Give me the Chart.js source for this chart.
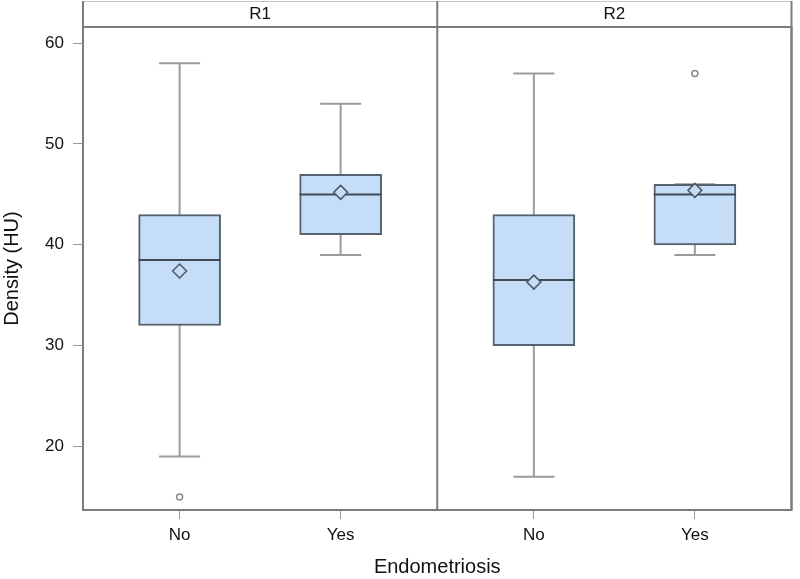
<!DOCTYPE html>
<html>
<head>
<meta charset="utf-8">
<title>Density by Endometriosis</title>
<script src="https://cdn.jsdelivr.net/npm/chart.js@4.4.1/dist/chart.umd.min.js"></script>
<style>
    html, body { margin: 0; padding: 0; background: #fff; }
    #wrap { width: 800px; height: 579px; }
</style>
</head>
<body>
<div id="wrap"><canvas id="boxChart"></canvas></div>
<script>
// panels and groups, boxes are listed R1-No, R1-Yes, R2-No, R2-Yes
const panels = ['R1', 'R2'];
const groups = ['No', 'Yes'];
const whiskerLow = [19, 39, 17, 39];
const q1 = [32, 41, 30, 40];
const median = [38.5, 45, 36.5, 45];
const q3 = [43, 47, 43, 46];
const whiskerHigh = [58, 54, 57, 46];
const means = [37.4, 45.2, 36.3, 45.4];
const outliers = [[15], [], [], [57]];
const yTicks = [20, 30, 40, 50, 60];

const PANEL_SPAN = 2.2;   // x units taken by one panel
const X_MIN = -0.6, X_MAX = 3.8, SPLIT = 1.6;

const FRAME = '#7c7c7c';
const BOX_FILL = '#c6ddf8';
const BOX_LINE = '#56616e';

function xOf(i) {
    return Math.floor(i / groups.length) * PANEL_SPAN + (i % groups.length);
}
const tickPos = q1.map((_, i) => xOf(i));

const boxParts = {
    id: 'boxParts',
    beforeDatasetsDraw(chart) {
        const { ctx, scales: { y } } = chart;
        const bars = chart.getDatasetMeta(0).data;
        ctx.save();
        ctx.strokeStyle = '#9b9b9b';
        ctx.lineWidth = 2;
        bars.forEach((bar, i) => {
            const cx = bar.x, half = bar.width / 4;
            const lo = y.getPixelForValue(whiskerLow[i]);
            const hi = y.getPixelForValue(whiskerHigh[i]);
            ctx.beginPath();
            ctx.moveTo(cx, lo); ctx.lineTo(cx, hi);
            ctx.moveTo(cx - half, lo); ctx.lineTo(cx + half, lo);
            ctx.moveTo(cx - half, hi); ctx.lineTo(cx + half, hi);
            ctx.stroke();
        });
        ctx.restore();
    },
    afterDatasetDraw(chart, args) {
        if (args.index !== 0) return;
        const { ctx, scales: { y } } = chart;
        ctx.save();
        ctx.strokeStyle = '#3f4a56';
        ctx.lineWidth = 2;
        chart.getDatasetMeta(0).data.forEach((bar, i) => {
            const py = y.getPixelForValue(median[i]);
            ctx.beginPath();
            ctx.moveTo(bar.x - bar.width / 2, py);
            ctx.lineTo(bar.x + bar.width / 2, py);
            ctx.stroke();
        });
        ctx.restore();
    },
    afterDraw(chart) {
        const { ctx, chartArea: a, scales: { x } } = chart;
        const split = x.getPixelForValue(SPLIT);
        const edges = [a.left, split, a.right];
        ctx.save();
        // header strips
        ctx.strokeStyle = '#c4c4c4';
        ctx.lineWidth = 1;
        ctx.beginPath();
        ctx.moveTo(a.left, 1.5); ctx.lineTo(a.right, 1.5);
        ctx.stroke();
        ctx.fillStyle = '#111';
        ctx.font = '17px "Liberation Sans", Arial, sans-serif';
        ctx.textAlign = 'center';
        ctx.textBaseline = 'middle';
        panels.forEach((p, k) => {
            ctx.fillText(p, (edges[k] + edges[k + 1]) / 2, (a.top + 2) / 2);
        });
        // panel frames
        ctx.strokeStyle = FRAME;
        ctx.lineWidth = 2;
        ctx.strokeRect(a.left, a.top, a.right - a.left, a.bottom - a.top);
        ctx.beginPath();
        edges.forEach(ex => { ctx.moveTo(ex, 1); ctx.lineTo(ex, a.bottom); });
        ctx.stroke();
        ctx.restore();
    }
};

Chart.defaults.font.family = '"Liberation Sans", Arial, sans-serif';
Chart.defaults.color = '#111';

const ctx = document.getElementById('boxChart').getContext('2d');
new Chart(ctx, {
    type: 'bar',
    data: {
        datasets: [{
            label: 'IQR',
            order: 3,
            data: q1.map((v, i) => ({ x: xOf(i), y: [v, q3[i]] })),
            backgroundColor: BOX_FILL,
            borderColor: BOX_LINE,
            borderWidth: 2,
            borderSkipped: false,
            barThickness: 82
        }, {
            type: 'scatter',
            label: 'Mean',
            order: 1,
            data: means.map((m, i) => ({ x: xOf(i), y: m })),
            pointStyle: 'rectRot',
            pointRadius: 7,
            backgroundColor: BOX_FILL,
            borderColor: '#4a5866',
            borderWidth: 1.5
        }, {
            type: 'scatter',
            label: 'Outliers',
            order: 2,
            data: outliers.flatMap((list, i) => list.map(v => ({ x: xOf(i), y: v }))),
            pointStyle: 'circle',
            pointRadius: 3,
            backgroundColor: '#ffffff',
            borderColor: '#8a8a8a',
            borderWidth: 1.5
        }]
    },
    options: {
        responsive: true,
        maintainAspectRatio: false,
        animation: false,
        layout: { padding: { top: 27, right: 3, left: 0, bottom: 0 } },
        plugins: {
            legend: { display: false },
            tooltip: { enabled: false }
        },
        scales: {
            x: {
                type: 'linear',
                min: X_MIN,
                max: X_MAX,
                offset: false,
                afterBuildTicks: s => { s.ticks = tickPos.map(v => ({ value: v })); },
                afterFit: s => { s.height = 69; },
                ticks: {
                    autoSkip: false,
                    maxRotation: 0,
                    padding: 6,
                    font: { size: 17 },
                    callback: v => groups[Math.round(v % PANEL_SPAN)]
                },
                grid: { offset: false, drawOnChartArea: false, tickLength: 9, color: '#999' },
                border: { display: false },
                title: { display: true, text: 'Endometriosis', font: { size: 20 }, padding: 0 }
            },
            y: {
                min: 13.7,
                max: 61.6,
                afterBuildTicks: s => { s.ticks = yTicks.map(v => ({ value: v })); },
                afterFit: s => { s.width = 83; },
                ticks: { padding: 9, font: { size: 17 } },
                grid: { drawOnChartArea: false, tickLength: 10, color: '#999' },
                border: { display: false },
                title: { display: true, text: 'Density (HU)', font: { size: 20 }, padding: 0 }
            }
        }
    },
    plugins: [boxParts]
});
</script>
</body>
</html>
